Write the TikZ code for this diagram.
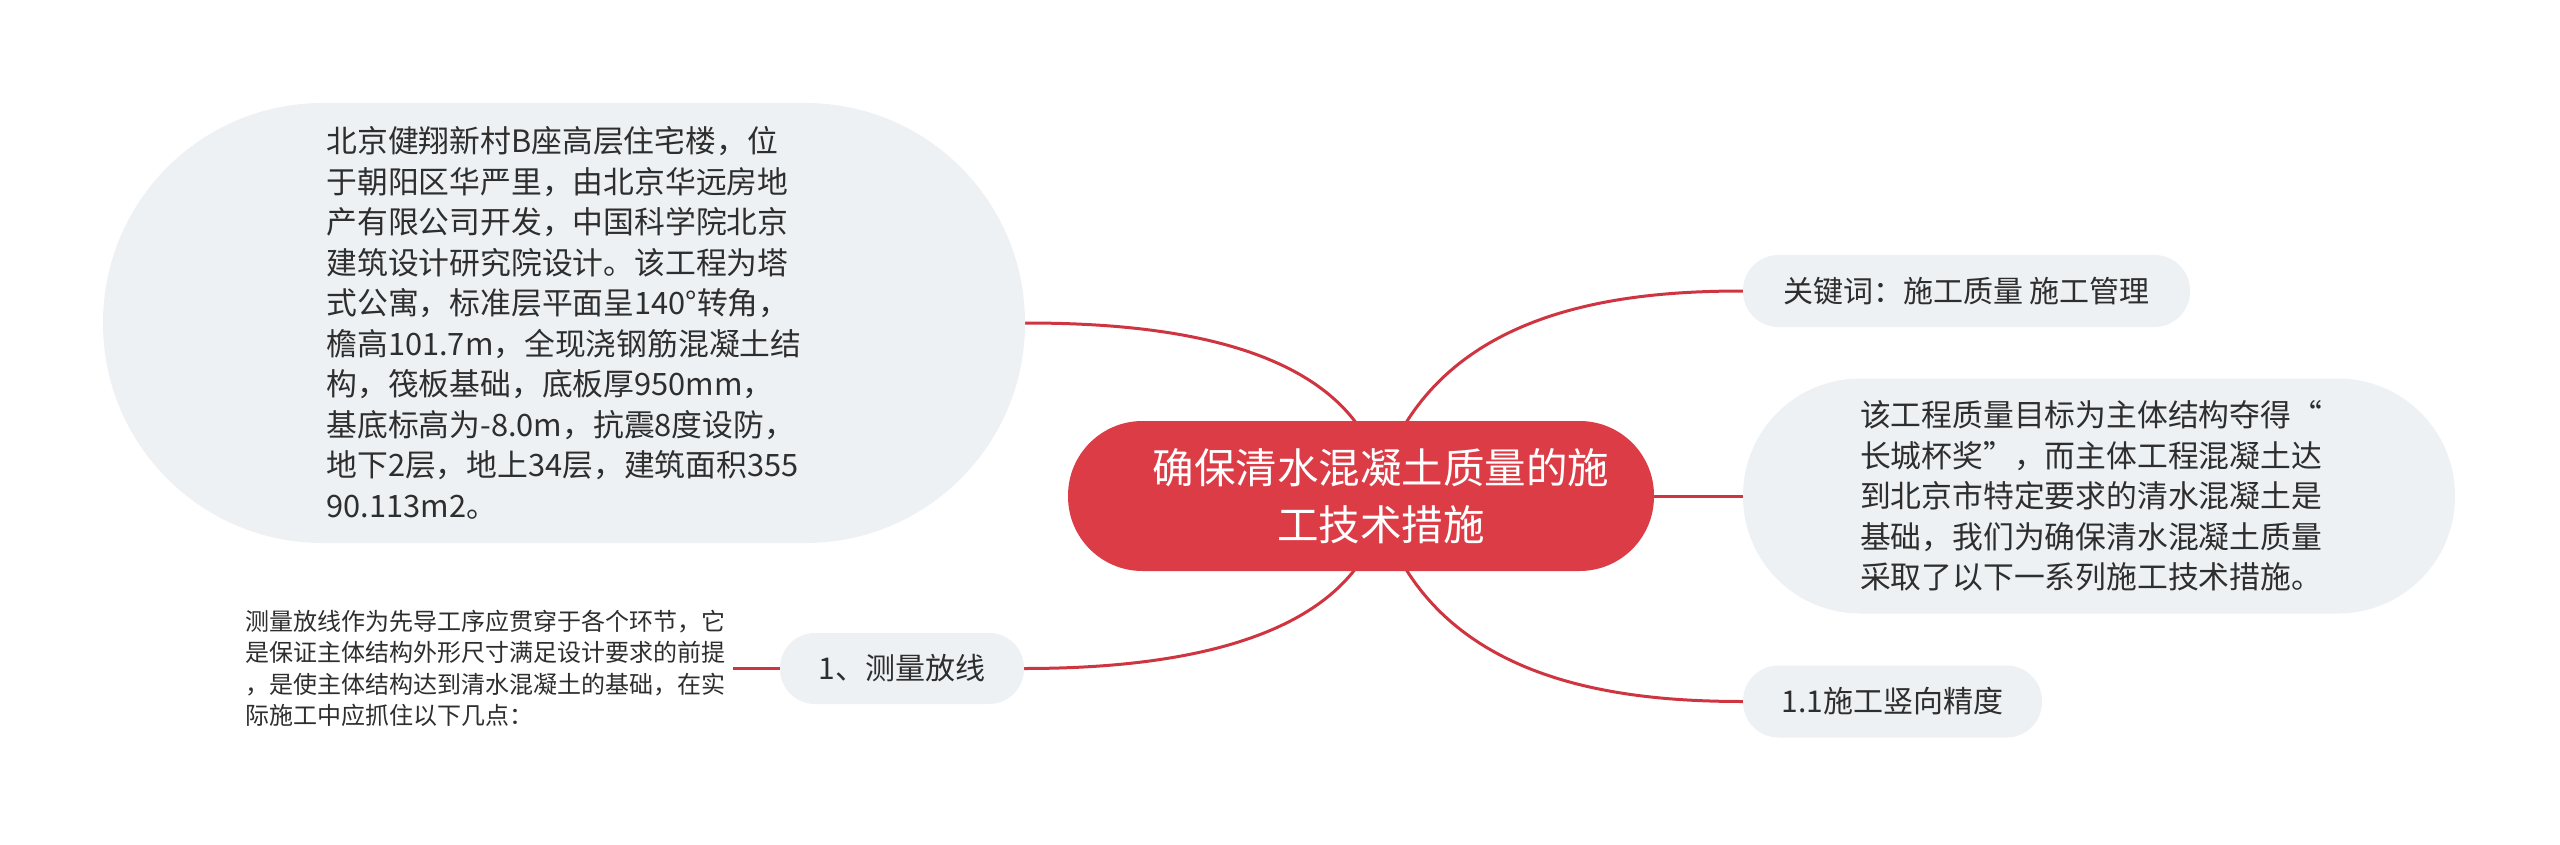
\documentclass[tikz,border=0pt]{standalone}
\usepackage{fontspec}
\newfontfamily\cjk{Noto Sans CJK SC}
\usetikzlibrary{backgrounds}
\definecolor{rootred}{HTML}{DC3C46}
\definecolor{linkred}{HTML}{CF3540}
\definecolor{bubble}{HTML}{EEF1F4}
\definecolor{ink}{HTML}{2E2E2E}
\begin{document}
\begin{tikzpicture}[x=1pt,y=-1pt,
  bubblebox/.style={fill=bubble, draw=none, inner sep=0pt, text=ink, align=left,
    font=\cjk\fontsize{30.8}{40.5}\selectfont},
  rootbox/.style={fill=rootred, draw=none, inner sep=0pt, text=white, align=center,
    font=\cjk\fontsize{41.5}{57}\selectfont, minimum width=586pt, minimum height=150pt,
    rounded corners=74.5pt},
  link/.style={draw=linkred, line width=3pt},
  plaintext/.style={inner xsep=8pt, inner ysep=0pt, text=ink, align=left,
    font=\cjk\fontsize{24}{31.5}\selectfont}
]
\useasboundingbox (0,0) rectangle (2560,845);

\node[rootbox] (root) at (1361,496) {\hspace*{40pt}确保清水混凝土质量的施\\\hspace*{40pt}工技术措施};

\node[bubblebox, minimum width=922pt, minimum height=440pt, rounded corners=219.5pt] (b1) at (564,323) {北京健翔新村B座高层住宅楼，位\\
于朝阳区华严里，由北京华远房地\\
产有限公司开发，中国科学院北京\\
建筑设计研究院设计。该工程为塔\\
式公寓，标准层平面呈140°转角，\\
檐高101.7m，全现浇钢筋混凝土结\\
构，筏板基础，底板厚950mm，\\
基底标高为-8.0m，抗震8度设防，\\
地下2层，地上34层，建筑面积355\\
90.113m2。};

\node[bubblebox, font=\cjk\fontsize{30}{40.5}\selectfont, minimum width=447pt, minimum height=72pt, rounded corners=35.5pt] (kw) at (1966.5,291) {关键词：施工质量 施工管理};

\node[bubblebox, minimum width=712pt, minimum height=235pt, rounded corners=117pt] (b3) at (2099,496) {该工程质量目标为主体结构夺得“\\
长城杯奖”，而主体工程混凝土达\\
到北京市特定要求的清水混凝土是\\
基础，我们为确保清水混凝土质量\\
采取了以下一系列施工技术措施。\hspace*{16pt}};

\node[bubblebox, font=\cjk\fontsize{30}{40.5}\selectfont, minimum width=299pt, minimum height=72pt, rounded corners=35.5pt] (b4) at (1892.5,701.5) {1.1施工竖向精度};

\node[bubblebox, font=\cjk\fontsize{30}{40.5}\selectfont, minimum width=244pt, minimum height=71pt, rounded corners=35pt] (b5) at (902,668.5) {1、测量放线};

\node[plaintext, anchor=west] (t5) at (237,668.5) {测量放线作为先导工序应贯穿于各个环节，它\\
是保证主体结构外形尺寸满足设计要求的前提\\
，是使主体结构达到清水混凝土的基础，在实\\
际施工中应抓住以下几点：};

\begin{scope}[on background layer]
\fill[white] (0,0) rectangle (2560,845);
\draw[link] ([xshift=24pt]root.center) .. controls +(-20,-156) and +(130,0) .. (b1.east);
\draw[link] ([xshift=14pt]root.center) .. controls +(48,-184) and +(-132,0) .. (kw.west);
\draw[link] (root.center) -- (b3.west);
\draw[link] ([xshift=14pt]root.center) .. controls +(48,184) and +(-132,0) .. (b4.west);
\draw[link] ([xshift=24pt]root.center) .. controls +(-20,154) and +(127,0) .. (b5.east);
\draw[link] (b5.west) -- (t5.east);
\end{scope}
\end{tikzpicture}
\end{document}
